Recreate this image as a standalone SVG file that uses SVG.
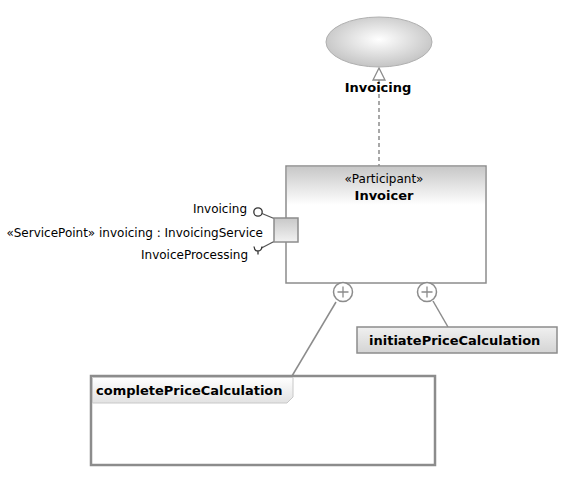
<svg xmlns="http://www.w3.org/2000/svg" width="573" height="479" viewBox="0 0 573 479">
<defs>
<radialGradient id="gEll" cx="0.5" cy="0.45" r="0.55">
<stop offset="0" stop-color="#ffffff"/>
<stop offset="1" stop-color="#c4c4c4"/>
</radialGradient>
<linearGradient id="gHead" x1="0" y1="0" x2="0" y2="1">
<stop offset="0" stop-color="#c8c8c8"/>
<stop offset="1" stop-color="#ffffff"/>
</linearGradient>
<linearGradient id="gPort" x1="0" y1="0" x2="0" y2="1">
<stop offset="0" stop-color="#c8c8c8"/>
<stop offset="1" stop-color="#f2f2f2"/>
</linearGradient>
<linearGradient id="gBtn" x1="0" y1="0" x2="0" y2="1">
<stop offset="0" stop-color="#f0f0f0"/>
<stop offset="1" stop-color="#d4d4d4"/>
</linearGradient>
<linearGradient id="gTab" x1="0" y1="0" x2="0" y2="1">
<stop offset="0" stop-color="#ffffff"/>
<stop offset="1" stop-color="#e2e2e2"/>
</linearGradient>
<style>
.ln{stroke:#8c8c8c;stroke-width:1.5;fill:none}
.bx{stroke:#8c8c8c;stroke-width:1.5}
.t{font-family:"DejaVu Sans","Liberation Sans",sans-serif;font-size:12px;fill:#000}
.b{font-family:"DejaVu Sans","Liberation Sans",sans-serif;font-size:13px;font-weight:bold;fill:#000}
</style>
</defs>
<rect width="573" height="479" fill="#ffffff"/>
<g id="connectors">
<line class="ln" x1="379" y1="80" x2="379" y2="166" stroke-dasharray="4,3"/>
<polygon points="379,68 373,80 385,80" fill="#ffffff" stroke="#8c8c8c" stroke-width="1.3"/>
<line class="ln" x1="336" y1="302" x2="292" y2="376"/>
<line class="ln" x1="433" y1="301" x2="448" y2="327"/>
</g>
<g id="Invoicing">
<ellipse cx="379" cy="42" rx="53" ry="25" fill="url(#gEll)" stroke="#b0b0b0" stroke-width="1"/>
<text class="b" x="378" y="92" text-anchor="middle">Invoicing</text>
</g>
<g id="Invoicer">
<rect class="bx" x="286" y="166" width="200" height="117" fill="#ffffff"/>
<rect x="287" y="167" width="198" height="38" fill="url(#gHead)"/>
<text class="t" x="384" y="183" text-anchor="middle">«Participant»</text>
<text class="b" x="384" y="200" text-anchor="middle">Invoicer</text>
</g>
<g id="port">
<line x1="262" y1="213.5" x2="274" y2="218.5" stroke="#555" stroke-width="1.3"/>
<circle cx="258" cy="212" r="4.2" fill="#ffffff" stroke="#333" stroke-width="1.3"/>
<line x1="274" y1="241.5" x2="261.5" y2="248" stroke="#555" stroke-width="1.3"/>
<path d="M254,246.5 Q254.5,251 258,251 Q261.5,251 262,246.5 M258,251 V254.5" fill="none" stroke="#333" stroke-width="1.3"/>
<rect class="bx" x="274" y="218" width="24" height="24" fill="url(#gPort)"/>
<text class="t" x="247" y="213" text-anchor="end">Invoicing</text>
<text class="t" x="263" y="237" text-anchor="end">«ServicePoint» invoicing : InvoicingService</text>
<text class="t" x="248" y="259" text-anchor="end">InvoiceProcessing</text>
</g>
<g id="plus1">
<circle cx="343" cy="292" r="9.5" fill="#ffffff" stroke="#8c8c8c" stroke-width="1.5"/>
<path d="M337.5,292 H348.5 M343,286.5 V297.5" stroke="#8c8c8c" stroke-width="1.3"/>
</g>
<g id="plus2">
<circle cx="427" cy="292" r="9.5" fill="#ffffff" stroke="#8c8c8c" stroke-width="1.5"/>
<path d="M421.5,292 H432.5 M427,286.5 V297.5" stroke="#8c8c8c" stroke-width="1.3"/>
</g>
<g id="initiatePriceCalculation">
<rect class="bx" x="357" y="327" width="200" height="26" fill="url(#gBtn)"/>
<text class="b" x="369" y="345">initiatePriceCalculation</text>
</g>
<g id="completePriceCalculation">
<rect x="91" y="376" width="344" height="89" fill="#ffffff" stroke="#8c8c8c" stroke-width="2.5"/>
<path d="M92.5,377.5 H293 V397 L287,403 H92.5 Z" fill="url(#gTab)" stroke="#c8c8c8" stroke-width="1"/>
<text class="b" x="96" y="395">completePriceCalculation</text>
</g>
</svg>
